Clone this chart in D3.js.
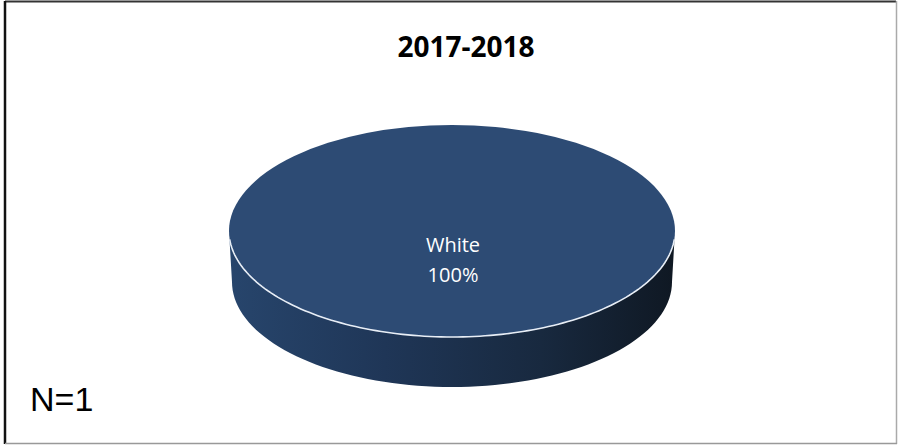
<!DOCTYPE html>
<html>
<head>
<meta charset="utf-8">
<script src="https://cdn.jsdelivr.net/npm/d3@7"></script>
<style>
  html, body { margin: 0; padding: 0; background: #fff; }
  svg { display: block; }
</style>
</head>
<body>
<svg id="chart" width="898" height="446"></svg>
<script>
// ---- data ----
const title = "2017-2018";
const categories = ["White"];
const values = [100];
const note = "N=1";

// ---- layout ----
const W = 898, H = 446;
const cx = 452, cy = 231, rx = 223, ry = 106, depth = 51;
const topColor = "#2d4b74";

const svg = d3.select("#chart");

// frame
svg.append("line").attr("x1", 5).attr("y1", 1.5).attr("x2", 896).attr("y2", 1.5).attr("stroke", "#333").attr("stroke-width", 2);
svg.append("line").attr("x1", 5).attr("y1", 1).attr("x2", 5).attr("y2", 444).attr("stroke", "#111").attr("stroke-width", 2.5);
svg.append("line").attr("x1", 896.5).attr("y1", 1).attr("x2", 896.5).attr("y2", 444).attr("stroke", "#aaa").attr("stroke-width", 1.5);
svg.append("line").attr("x1", 5).attr("y1", 443.5).attr("x2", 897).attr("y2", 443.5).attr("stroke", "#999").attr("stroke-width", 1.5);

// title
svg.append("text").attr("x", 466).attr("y", 57).attr("text-anchor", "middle")
  .attr("font-family", "Open Sans, sans-serif").attr("font-weight", "bold").attr("font-size", 28)
  .attr("fill", "#000").text(title);

// note
svg.append("text").attr("x", 30).attr("y", 411)
  .attr("font-family", "Liberation Sans, Arial, sans-serif").attr("font-size", 34)
  .attr("fill", "#000").text(note);

// gradient for side
const defs = svg.append("defs");
const grad = defs.append("linearGradient").attr("id", "sideGrad")
  .attr("gradientUnits", "userSpaceOnUse")
  .attr("x1", cx - rx).attr("y1", 0).attr("x2", cx + rx).attr("y2", 0);
grad.append("stop").attr("offset", "0%").attr("stop-color", "#27456c");
grad.append("stop").attr("offset", "35%").attr("stop-color", "#1f3657");
grad.append("stop").attr("offset", "70%").attr("stop-color", "#18293f");
grad.append("stop").attr("offset", "100%").attr("stop-color", "#0f1823");

const pie = d3.pie().sort(null).value(d => d)(values);

function pt(a, dy, sx, sy) {
  return [cx + sx * Math.sin(a), cy + dy - sy * Math.cos(a)];
}

// side walls (front half only)
pie.forEach(s => {
  const a0 = Math.max(s.startAngle, Math.PI / 2);
  const a1 = Math.min(s.endAngle, 3 * Math.PI / 2);
  if (a1 <= a0) return;
  const n = 80;
  const topPts = d3.range(n + 1).map(i => pt(a0 + (a1 - a0) * i / n, 0, rx, ry));
  const botPts = d3.range(n + 1).map(i => pt(a1 - (a1 - a0) * i / n, depth, rx - 3, ry - 1));
  svg.append("path")
    .attr("d", d3.line()(topPts.concat(botPts)) + "Z")
    .attr("fill", "url(#sideGrad)");
});

// top face via d3.arc scaled to an ellipse
const arc = d3.arc().innerRadius(0).outerRadius(1);
const topG = svg.append("g").attr("transform", `translate(${cx},${cy}) scale(${rx},${ry})`);
topG.selectAll("path").data(pie).enter().append("path")
  .attr("d", arc).attr("fill", topColor);

// white rim along front edge
const rimPts = d3.range(121).map(i => pt(Math.PI / 2 + 0.08 + (Math.PI - 0.16) * i / 120, 0, rx, ry));
svg.append("path").attr("d", d3.line()(rimPts)).attr("fill", "none")
  .attr("stroke", "#e8eef6").attr("stroke-width", 1.6);

// labels
pie.forEach((s, i) => {
  const g = svg.append("text").attr("text-anchor", "middle")
    .attr("font-family", "Open Sans, sans-serif").attr("font-size", 20).attr("fill", "#fff");
  g.append("tspan").attr("x", 453).attr("y", 252).text(categories[i]);
  g.append("tspan").attr("x", 453).attr("y", 282).text(d3.format(".0f")(s.value / d3.sum(values) * 100) + "%");
});
</script>
</body>
</html>
